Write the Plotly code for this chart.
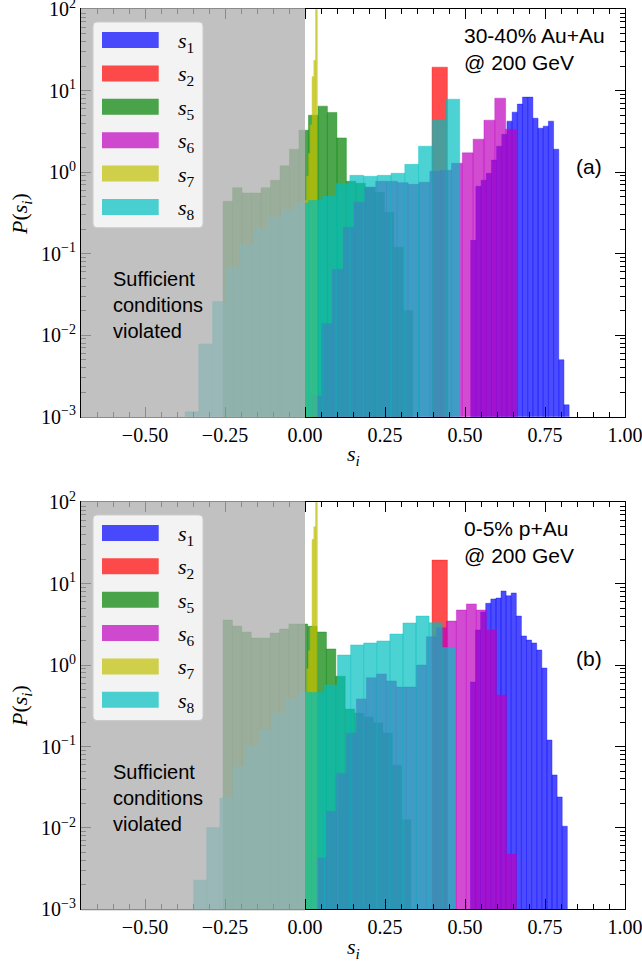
import plotly.graph_objects as go

# ---------------- data (density histograms) ----------------
SERIES = ["s1", "s2", "s5", "s6", "s7", "s8"]
LEGEND_LABELS = ["<i>s</i><sub>1</sub>", "<i>s</i><sub>2</sub>", "<i>s</i><sub>5</sub>",
                 "<i>s</i><sub>6</sub>", "<i>s</i><sub>7</sub>", "<i>s</i><sub>8</sub>"]
COLORS = ["rgba(0,0,255,0.7)", "rgba(255,0,0,0.7)", "rgba(0,128,0,0.7)",
          "rgba(191,0,191,0.7)", "rgba(191,191,0,0.7)", "rgba(0,191,191,0.7)"]

# panel (a): 30-40% Au+Au -- bin left edge, bin width, heights
S1_A_X0, S1_A_W = 0.5178, 0.01619
S1_A_H = [0.146, 0.673, 0.80, 0.97, 1.41, 2.09, 2.93, 4.24, 5.47, 6.86, 8.36, 8.36,
          4.61, 3.47, 3.68, 4.24, 1.92, 0.005, 0.0014]
S2_A_X0, S2_A_W = 0.397, 0.048
S2_A_H = [19.5]
S5_A_X0, S5_A_W = -0.256, 0.02964
S5_A_H = [0.44, 0.647, 0.557, 0.557, 0.647, 0.797, 1.20, 1.92, 3.28, 5.02, 6.48, 5.42,
          2.64, 0.775, 0.733, 0.655, 0.567, 0.322, 0.12, 0.0201]
S6_A_X0, S6_A_W = 0.0178, 0.03384
S6_A_H = [0.0018, 0.0139, 0.0643, 0.211, 0.428, 0.655, 0.775, 0.775, 0.746, 0.711,
          0.754, 1.03, 1.06, 1.29, 1.73, 2.55, 4.36, 8.12, 3.38]
S7_A_X0, S7_A_W = 0.0, 0.0055
S7_A_H = [0.45, 0.9, 1.7, 3.8, 14.9, 23.6, 140.0]
S8_A_X0, S8_A_W = -0.375, 0.04293
S8_A_H = [0.00115, 0.00783, 0.026, 0.0686, 0.129, 0.203, 0.282, 0.348, 0.42, 0.453,
          0.507, 0.726, 0.918, 0.893, 0.918, 0.972, 1.25, 2.09, 4.43, 7.89]

# panel (b): 0-5% p+Au
S1_B_X0, S1_B_W = 0.5169, 0.01594
S1_B_H = [0.62, 2.70, 4.49, 5.74, 6.49, 6.67, 8.13, 7.12, 7.69, 4.01, 2.28, 2.03,
          1.87, 1.53, 0.92, 0.12, 0.0447, 0.024, 0.0105]
S2_B_X0, S2_B_W = 0.397, 0.048
S2_B_H = [19.5]
S5_B_X0, S5_B_W = -0.256, 0.02936
S5_B_H = [3.58, 3.02, 2.55, 2.15, 2.15, 2.48, 2.77, 3.2, 3.2, 3.0, 2.55, 1.58,
          0.73, 0.288, 0.258, 0.23, 0.195, 0.147, 0.059, 0.0126]
S6_B_X0, S6_B_W = 0.0356, 0.03125
S6_B_H = [0.00428, 0.016, 0.047, 0.147, 0.384, 0.70, 0.778, 0.638, 0.538, 0.538,
          1.0, 2.23, 2.88, 3.48, 4.75, 5.64, 4.75, 2.70, 0.43, 0.00478]
S7_B_X0, S7_B_W = 0.0, 0.0055
S7_B_H = [0.46, 0.9, 1.5, 2.9, 35.0, 50.0, 110.0]
S8_B_X0, S8_B_W = -0.348, 0.04088
S8_B_H = [0.00229, 0.0101, 0.0233, 0.0565, 0.101, 0.16, 0.256, 0.384, 0.463, 0.46,
          0.569, 1.33, 1.77, 1.87, 1.98, 2.41, 3.29, 4.01, 3.32, 1.64]

PANEL_A = [(S1_A_X0, S1_A_W, S1_A_H), (S2_A_X0, S2_A_W, S2_A_H), (S5_A_X0, S5_A_W, S5_A_H),
           (S6_A_X0, S6_A_W, S6_A_H), (S7_A_X0, S7_A_W, S7_A_H), (S8_A_X0, S8_A_W, S8_A_H)]
PANEL_B = [(S1_B_X0, S1_B_W, S1_B_H), (S2_B_X0, S2_B_W, S2_B_H), (S5_B_X0, S5_B_W, S5_B_H),
           (S6_B_X0, S6_B_W, S6_B_H), (S7_B_X0, S7_B_W, S7_B_H), (S8_B_X0, S8_B_W, S8_B_H)]

SYSTEM_LABELS = ["30-40% Au+Au<br>@ 200 GeV", "0-5% p+Au<br>@ 200 GeV"]
PANEL_TAGS = ["(a)", "(b)"]
SHADE_TEXT = "Sufficient<br>conditions<br>violated"

X_RANGE = [-0.7, 1.0]
SHADE_X = [-0.7, 0.0]
X_TICKS = [-0.5, -0.25, 0.0, 0.25, 0.5, 0.75, 1.0]
X_TICK_LABELS = ["\u22120.50", "\u22120.25", "0.00", "0.25", "0.50", "0.75", "1.00"]
X_MINOR = [round(-0.7 + 0.05 * k, 2) for k in range(35)]
Y_TICKS = [1e-3, 1e-2, 1e-1, 1, 10, 100]
Y_TICK_LABELS = ["10<sup>\u22123</sup>", "10<sup>\u22122</sup>", "10<sup>\u22121</sup>",
                 "10<sup>0</sup>", "10<sup>1</sup>", "10<sup>2</sup>"]
Y_MINOR = [k * 10.0 ** e for e in range(-3, 2) for k in range(2, 10)]

# ---------------- layout geometry ----------------
W, H = 642, 967
X_DOM = [81 / W, 625 / W]
Y_DOMS = [[(H - 416.7) / H, (H - 9.3) / H], [(H - 909.3) / H, (H - 502.3) / H]]

SERIF = "Liberation Serif"
SANS = "Liberation Sans"

fig = go.Figure()

for p, panel in enumerate([PANEL_A, PANEL_B]):
    xa = "x" if p == 0 else "x2"
    ya = "y" if p == 0 else "y2"
    for (x0, w, hs), col in zip(panel, COLORS):
        xs = [x0 + w * (i + 0.5) for i in range(len(hs))]
        fig.add_trace(go.Bar(
            x=xs, y=hs, width=[w] * len(hs), xaxis=xa, yaxis=ya,
            marker=dict(color=col, line=dict(color=col, width=0.5)),
            showlegend=False, hoverinfo="skip"))

axis_common = dict(showline=True, linecolor="black", linewidth=1, mirror="allticks",
                   ticks="inside", ticklen=10, tickwidth=1, tickcolor="black",
                   showgrid=False, zeroline=False, automargin=False,
                   ticklabeloverflow="allow",
                   tickfont=dict(family=SERIF, size=20, color="black"))

layout = dict(width=W, height=H, margin=dict(l=0, r=0, t=0, b=0, autoexpand=False),
              paper_bgcolor="white", plot_bgcolor="white", barmode="overlay",
              showlegend=False)
for p in range(2):
    sfx = "" if p == 0 else "2"
    layout["xaxis" + sfx] = dict(
        axis_common, domain=X_DOM, range=X_RANGE, anchor="y" + sfx,
        tickvals=X_TICKS, ticktext=X_TICK_LABELS,
        minor=dict(tickvals=X_MINOR, ticks="inside", ticklen=5, tickwidth=0.8,
                   tickcolor="black", showgrid=False))
    layout["yaxis" + sfx] = dict(
        axis_common, domain=Y_DOMS[p], type="log", range=[-3, 2], anchor="x" + sfx,
        tickvals=Y_TICKS, ticktext=Y_TICK_LABELS,
        minor=dict(tickvals=Y_MINOR, ticks="inside", ticklen=5, tickwidth=0.8,
                   tickcolor="black", showgrid=False))
fig.update_layout(**layout)

shapes = []
annotations = []


def rounded_rect(x0, y0, x1, y1, rx, ry):
    return (f"M {x0+rx},{y0} L {x1-rx},{y0} Q {x1},{y0} {x1},{y0+ry} "
            f"L {x1},{y1-ry} Q {x1},{y1} {x1-rx},{y1} L {x0+rx},{y1} "
            f"Q {x0},{y1} {x0},{y1-ry} L {x0},{y0+ry} Q {x0},{y0} {x0+rx},{y0} Z")


pw = 625 - 81
ph = 407.4
for p in range(2):
    sfx = "" if p == 0 else "2"
    xr, yr = "x" + sfx, "y" + sfx
    xd, yd = xr + " domain", yr + " domain"
    # shaded region (drawn over bars)
    shapes.append(dict(type="rect", xref=xr, yref=yd, x0=SHADE_X[0] - 0.004, x1=SHADE_X[1],
                       y0=-0.003, y1=1.003, fillcolor="rgba(176,176,176,0.79)",
                       line=dict(width=0), layer="above"))
    # legend box
    lx0, lx1 = (93 - 81) / pw, (203 - 81) / pw
    ly0, ly1 = (416.7 - 227.7) / ph, (416.7 - 22) / ph
    shapes.append(dict(type="path", xref=xd, yref=yd,
                       path=rounded_rect(lx0, ly0, lx1, ly1, 4 / pw, 4 / ph),
                       fillcolor="rgba(255,255,255,0.8)",
                       line=dict(color="rgb(204,204,204)", width=1), layer="above"))
    for k, (lab, col) in enumerate(zip(LEGEND_LABELS, COLORS)):
        cy = (416.7 - (40 + 33.4 * k)) / ph
        shapes.append(dict(type="rect", xref=xd, yref=yd,
                           x0=(102 - 81) / pw, x1=(158.7 - 81) / pw,
                           y0=cy - 8 / ph, y1=cy + 8 / ph,
                           fillcolor=col, line=dict(width=0), layer="above"))
        annotations.append(dict(xref=xd, yref=yd, x=(176 - 81) / pw, y=cy - 2 / ph,
                                xanchor="left", yanchor="middle", showarrow=False,
                                text=lab, font=dict(family=SERIF, size=22, color="black")))
    annotations.append(dict(xref=xd, yref=yd, x=(462 - 81) / pw, y=(416.7 - 22) / ph,
                            xanchor="left", yanchor="top", showarrow=False, align="left",
                            text=SYSTEM_LABELS[p],
                            font=dict(family=SANS, size=21, color="black")))
    annotations.append(dict(xref=xd, yref=yd, x=(589 - 81) / pw, y=(416.7 - 166) / ph,
                            xanchor="center", yanchor="middle", showarrow=False,
                            text=PANEL_TAGS[p],
                            font=dict(family=SANS, size=21, color="black")))
    annotations.append(dict(xref=xd, yref=yd, x=(111 - 81) / pw, y=(416.7 - 305) / ph,
                            xanchor="left", yanchor="middle", showarrow=False, align="left",
                            text=SHADE_TEXT,
                            font=dict(family=SANS, size=20, color="black")))
    # axis titles
    ty = [455, 948][p]
    annotations.append(dict(xref="paper", yref="paper", x=353 / W, y=(H - ty) / H,
                            xanchor="center", yanchor="middle", showarrow=False,
                            text="<i>s</i><sub><i>i</i></sub>",
                            font=dict(family=SERIF, size=22, color="black")))
    cyy = [214, 706][p]
    annotations.append(dict(xref="paper", yref="paper", x=21 / W, y=(H - cyy) / H,
                            xanchor="center", yanchor="middle", showarrow=False,
                            textangle=-90,
                            text="<i>P</i>(<i>s</i><sub><i>i</i></sub>)",
                            font=dict(family=SERIF, size=22, color="black")))

fig.update_layout(shapes=shapes, annotations=annotations)
fig.write_html("out.html", config={"displayModeBar": False},
               post_script="document.body.style.margin='0';document.body.style.overflow='hidden';")
